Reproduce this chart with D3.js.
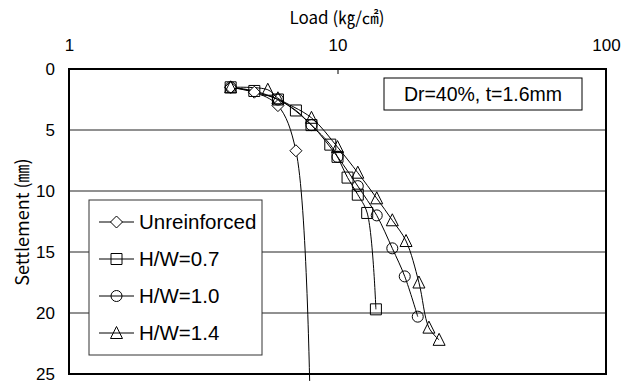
<!DOCTYPE html>
<html>
<head>
<meta charset="utf-8">
<script src="https://cdn.jsdelivr.net/npm/d3@7/dist/d3.min.js"></script>
<style>
  html, body { margin: 0; padding: 0; background: #fff; }
  svg { display: block; }
  text { font-family: "Liberation Sans", Arial, "Noto Sans CJK KR", sans-serif; fill: #000; }
</style>
</head>
<body>
<svg id="chart" width="624" height="385"></svg>
<script>
// ---- data ----
const seriesNames = ["Unreinforced", "H/W=0.7", "H/W=1.0", "H/W=1.4"];
const unreinforcedLoad = [4.0, 4.9, 6.0, 7.0, 7.9];
const unreinforcedSettle = [1.5, 1.9, 3.0, 6.7, 27.1];
const hw07Load = [4.0, 4.9, 6.0, 7.0, 8.0, 9.4, 10.0, 10.9, 11.9, 12.9, 13.9];
const hw07Settle = [1.5, 1.8, 2.5, 3.4, 4.6, 6.2, 7.2, 8.9, 10.3, 11.8, 19.7];
const hw10Load = [4.0, 6.0, 8.0, 10.0, 11.9, 14.0, 16.0, 17.8, 19.9];
const hw10Settle = [1.5, 2.5, 4.6, 7.2, 9.6, 12.0, 14.7, 17.0, 20.3];
const hw14Load = [4.0, 5.5, 6.0, 8.0, 10.0, 11.9, 14.0, 16.0, 18.0, 20.1, 21.9, 23.9];
const hw14Settle = [1.5, 1.7, 2.4, 4.0, 6.4, 8.5, 10.6, 12.4, 14.1, 17.5, 21.2, 22.2];
const xTicks = [1, 10, 100];
const yTicks = [0, 5, 10, 15, 20, 25];
const gridValues = [5, 10, 15, 20];
const xTitle = "Load (\u338F/\u33A0)";
const yTitle = "Settlement (\u339C)";
const note = "Dr=40%, t=1.6mm";
const markerTypes = ["diamond", "square", "circle", "triangle"];

const loads = [unreinforcedLoad, hw07Load, hw10Load, hw14Load];
const settles = [unreinforcedSettle, hw07Settle, hw10Settle, hw14Settle];
const series = seriesNames.map((name, i) => ({
  name, marker: markerTypes[i],
  points: loads[i].map((l, j) => ({ load: l, s: settles[i][j] }))
}));

// ---- layout ----
const svg = d3.select("#chart");
const X0 = 69, X1 = 606, Y0 = 69, Y1 = 374;
const x = d3.scaleLog().domain([1, 100]).range([X0, X1]);
const y = d3.scaleLinear().domain([0, 25]).range([Y0, Y1]);

function markerPath(type) {
  const r = 5.5;
  if (type === "diamond") return `M0,${-r-0.5}L${r+0.5},0L0,${r+0.5}L${-r-0.5},0Z`;
  if (type === "square") return `M${-r},${-r}H${r}V${r}H${-r}Z`;
  if (type === "circle") return `M${r},0A${r},${r} 0 1,1 ${-r},0A${r},${r} 0 1,1 ${r},0Z`;
  if (type === "triangle") return `M0,${-r-1}L${r+0.5},${r}L${-r-0.5},${r}Z`;
}

// gridlines
svg.append("g").selectAll("line").data(gridValues).join("line")
  .attr("x1", X0).attr("x2", X1)
  .attr("y1", d => y(d)).attr("y2", d => y(d))
  .attr("stroke", "#222").attr("stroke-width", 1);

svg.append("clipPath").attr("id", "plotclip").append("rect")
  .attr("x", X0).attr("y", Y0).attr("width", X1 - X0).attr("height", Y1 - Y0 + 7);

// lines
const line = d3.line().x(d => x(d.load)).y(d => y(d.s)).curve(d3.curveCatmullRom.alpha(0.5));
const gLines = svg.append("g").attr("clip-path", "url(#plotclip)");
gLines.selectAll("path").data(series).join("path")
  .attr("d", d => line(d.points))
  .attr("fill", "none").attr("stroke", "#000").attr("stroke-width", 1);

// markers
series.forEach(sr => {
  svg.append("g").selectAll("path")
    .data(sr.points.filter(p => p.s <= 25))
    .join("path")
    .attr("transform", p => `translate(${x(p.load)},${y(p.s)})`)
    .attr("d", markerPath(sr.marker))
    .attr("fill", sr.marker === "diamond" ? "#fff" : "none")
    .attr("stroke", "#000").attr("stroke-width", 1);
});

// plot border
svg.append("rect").attr("x", X0).attr("y", Y0).attr("width", X1 - X0).attr("height", Y1 - Y0)
  .attr("fill", "none").attr("stroke", "#000").attr("stroke-width", 2);

// top axis
const xAxis = d3.axisTop(x).tickValues(xTicks).tickFormat(d3.format("d"))
  .tickSizeInner(-5).tickSizeOuter(0).tickPadding(18);
const gx = svg.append("g").attr("transform", `translate(0,${Y0})`).call(xAxis);
gx.select(".domain").remove();
gx.selectAll("line").attr("stroke", "#000");
gx.selectAll("text").attr("font-size", 17).attr("font-family", "'Liberation Sans', Arial, sans-serif");

// left axis
const yAxis = d3.axisLeft(y).tickValues(yTicks).tickSize(0).tickPadding(14);
const gy = svg.append("g").attr("transform", `translate(${X0},0)`).call(yAxis);
gy.select(".domain").remove();
gy.selectAll("text").attr("font-size", 17).attr("font-family", "'Liberation Sans', Arial, sans-serif");

// titles
svg.append("text").attr("x", 337).attr("y", 24).attr("text-anchor", "middle")
  .attr("font-size", 17).style("font-family", "'Noto Sans CJK KR', sans-serif").text(xTitle);
svg.append("text").attr("transform", "translate(29,222) rotate(-90)").attr("text-anchor", "middle")
  .attr("font-size", 18).style("font-family", "'Noto Sans CJK KR', sans-serif").text(yTitle);

// note box
svg.append("rect").attr("x", 384).attr("y", 78).attr("width", 198).attr("height", 32)
  .attr("fill", "#fff").attr("stroke", "#000").attr("stroke-width", 1);
svg.append("text").attr("x", 483).attr("y", 94).attr("dy", "0.35em").attr("text-anchor", "middle")
  .attr("font-size", 19.5).text(note);

// legend
const lg = svg.append("g");
lg.append("rect").attr("x", 89).attr("y", 200).attr("width", 173).attr("height", 155)
  .attr("fill", "#fff").attr("stroke", "#333").attr("stroke-width", 1);
const rows = lg.selectAll("g.row").data(series).join("g").attr("class", "row")
  .attr("transform", (d, i) => `translate(0,${222 + i * 37})`);
rows.append("line").attr("x1", 99).attr("x2", 134).attr("y1", 0).attr("y2", 0)
  .attr("stroke", "#000").attr("stroke-width", 1);
rows.append("path").attr("transform", "translate(116.5,0)")
  .attr("d", d => markerPath(d.marker))
  .attr("fill", d => d.marker === "diamond" ? "#fff" : "none")
  .attr("stroke", "#000").attr("stroke-width", 1);
rows.append("text").attr("x", 139).attr("y", 0).attr("dy", "0.36em")
  .attr("font-size", 20.5).text(d => d.name);
</script>
</body>
</html>
